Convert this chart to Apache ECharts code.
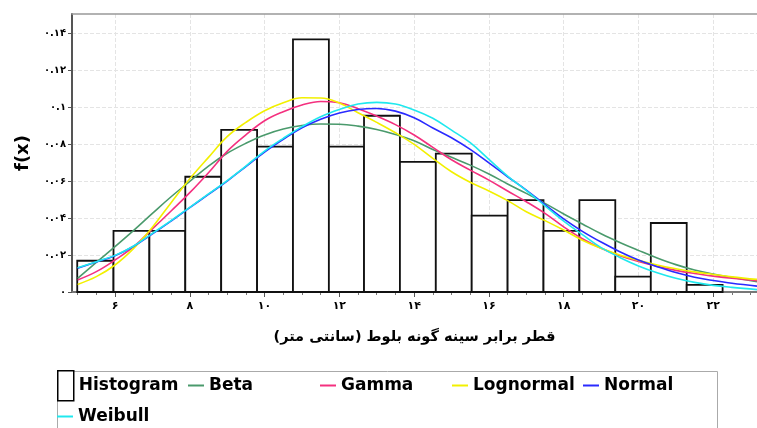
<!DOCTYPE html>
<html>
<head>
<meta charset="utf-8">
<script src="https://cdn.jsdelivr.net/npm/echarts@6/dist/echarts.min.js"></script>
<style>
html,body{margin:0;padding:0;background:#fff;}
#chart{width:757px;height:428px;}
</style>
</head>
<body>
<div id="chart"></div>
<script>
// ---------- data ----------
var binEdges = [4.99, 5.96, 6.92, 7.88, 8.84, 9.80, 10.76, 11.72, 12.66, 13.62, 14.58, 15.54, 16.50, 17.46, 18.42, 19.38, 20.33, 21.29, 22.25];
var binHeights = [0.0169, 0.0331, 0.0331, 0.0623, 0.0876, 0.0786, 0.1366, 0.0786, 0.0953, 0.0704, 0.0748, 0.0413, 0.0497, 0.0331, 0.0497, 0.0083, 0.0373, 0.0039];

var curveX = [5,5.5,6,6.5,7,7.5,8,8.5,9,9.5,10,10.5,11,11.5,12,12.5,13,13.5,14,14.5,15,15.5,16,16.5,17,17.5,18,18.5,19,19.5,20,20.5,21,21.5,22,22.5,23.17];
var betaY = [0.0074,0.0160,0.0245,0.0333,0.0425,0.0515,0.0598,0.0681,0.0750,0.0804,0.0849,0.0881,0.0900,0.0908,0.0907,0.0897,0.0879,0.0852,0.0818,0.0770,0.0728,0.0686,0.0638,0.0584,0.0533,0.0479,0.0422,0.0368,0.0315,0.0268,0.0225,0.0184,0.0148,0.0119,0.0097,0.0079,0.0056];
var gammaY = [0.0065,0.0110,0.0173,0.0245,0.0341,0.0438,0.0537,0.0645,0.0760,0.0849,0.0926,0.0975,0.1011,0.1030,0.1023,0.0991,0.0951,0.0905,0.0849,0.0782,0.0715,0.0659,0.0605,0.0546,0.0488,0.0425,0.0352,0.0288,0.0236,0.0196,0.0165,0.0139,0.0117,0.0100,0.0086,0.0074,0.0061];
var lognormalY = [0.0041,0.0083,0.0146,0.0236,0.0350,0.0483,0.0612,0.0728,0.0840,0.0917,0.0980,0.1023,0.1050,0.1049,0.1022,0.0969,0.0917,0.0861,0.0798,0.0723,0.0650,0.0593,0.0546,0.0494,0.0434,0.0386,0.0335,0.0280,0.0236,0.0200,0.0171,0.0146,0.0126,0.0109,0.0095,0.0082,0.0068];
var normalY = [0.0128,0.0162,0.0196,0.0247,0.0314,0.0384,0.0456,0.0528,0.0600,0.0678,0.0757,0.0826,0.0888,0.0934,0.0968,0.0987,0.0992,0.0978,0.0942,0.0887,0.0834,0.0771,0.0698,0.0623,0.0551,0.0472,0.0395,0.0328,0.0270,0.0218,0.0173,0.0137,0.0105,0.0080,0.0062,0.0047,0.0032];
var weibullY = [0.0131,0.0164,0.0198,0.0249,0.0317,0.0386,0.0458,0.0530,0.0602,0.0681,0.0762,0.0831,0.0894,0.0948,0.0987,0.1016,0.1025,0.1016,0.0984,0.0939,0.0875,0.0807,0.0717,0.0627,0.0548,0.0466,0.0383,0.0310,0.0240,0.0187,0.0141,0.0104,0.0074,0.0052,0.0036,0.0025,0.0013];

var xTickValues = [6, 8, 10, 12, 14, 16, 18, 20, 22];
var xTickLabels = ['۶', '۸', '۱۰', '۱۲', '۱۴', '۱۶', '۱۸', '۲۰', '۲۲'];
var xMinorTicks = [5, 5.5, 6.5, 7, 7.5, 8.5, 9, 9.5, 10.5, 11, 11.5, 12.5, 13, 13.5, 14.5, 15, 15.5, 16.5, 17, 17.5, 18.5, 19, 19.5, 20.5, 21, 21.5, 22.5, 23];
var yTickValues = [0, 0.02, 0.04, 0.06, 0.08, 0.1, 0.12, 0.14];
var yTickLabels = ['۰', '۰.۰۲', '۰.۰۴', '۰.۰۶', '۰.۰۸', '۰.۱', '۰.۱۲', '۰.۱۴'];

var xAxisTitle = 'قطر برابر سینه گونه بلوط (سانتی متر)';
var yAxisTitle = 'f(x)';
var seriesNames = ['Histogram', 'Beta', 'Gamma', 'Lognormal', 'Normal', 'Weibull'];

// ---------- build ----------
function pairs(xs, ys) { var o = []; for (var i = 0; i < xs.length; i++) o.push([xs[i], ys[i]]); return o; }
var histData = [];
for (var i = 0; i < binHeights.length; i++) histData.push([binEdges[i], binEdges[i + 1], binHeights[i]]);

function labelFor(values, labels) {
  return function (v) {
    for (var i = 0; i < values.length; i++) if (Math.abs(values[i] - v) < 1e-9) return labels[i];
    return '';
  };
}

var FONT = 'DejaVu Sans';
var colors = { Beta: '#4a9a6c', Gamma: '#f4307f', Lognormal: '#f2f000', Normal: '#2a2aff', Weibull: '#20e8ee' };

function lineSeries(name, ys) {
  return {
    name: name, type: 'line', data: pairs(curveX, ys), smooth: 0.4, symbol: 'none',
    lineStyle: { color: colors[name], width: 1.6 }, itemStyle: { color: colors[name] },
    z: 3, animation: false
  };
}

var LINE_ICON = 'path://M0,0 L16,0 L16,2 L0,2 Z';
var legendBase = {
  orient: 'horizontal', itemWidth: 16, itemHeight: 30, selectedMode: false, padding: 0,
  symbolKeepAspect: true,
  textStyle: { fontFamily: FONT, fontWeight: 'bold', fontSize: 17, color: '#000' }
};
function legendAt(name, left, top, extra) {
  var item = Object.assign({ name: name }, extra || {
    icon: LINE_ICON, itemStyle: { color: colors[name], borderWidth: 0 }
  });
  return Object.assign({}, legendBase, { left: left, top: top, data: [item] });
}

var option = {
  animation: false,
  backgroundColor: '#fff',
  grid: { left: 72, right: 0, top: 14, bottom: 136, containLabel: false },
  xAxis: [
    {
      type: 'value', min: 4.85, max: 23.17, position: 'bottom',
      axisLine: { show: true, onZero: false, lineStyle: { color: '#777', width: 2 } },
      axisTick: { show: true, customValues: xTickValues, length: 5, lineStyle: { color: '#555', width: 1 } },
      axisLabel: { show: true, customValues: xTickValues, formatter: labelFor(xTickValues, xTickLabels),
        margin: 9, fontFamily: FONT, fontWeight: 'bold', fontSize: 11, color: '#000' },
      splitLine: { show: true, lineStyle: { color: '#e4e4e4', type: 'dashed', width: 1 } },
      name: xAxisTitle, nameLocation: 'middle', nameGap: 38,
      nameTextStyle: { fontFamily: FONT, fontWeight: 'bold', fontSize: 14.5, color: '#000' }
    },
    {
      type: 'value', min: 4.85, max: 23.17, position: 'bottom',
      axisLine: { show: false, onZero: false },
      axisTick: { show: true, customValues: xMinorTicks, length: 3, lineStyle: { color: '#777', width: 1 } },
      axisLabel: { show: false }, splitLine: { show: false }
    },
    {
      type: 'value', min: 4.85, max: 23.17, position: 'top',
      axisLine: { show: true, onZero: false, lineStyle: { color: '#999', width: 1.5 } },
      axisTick: { show: false }, axisLabel: { show: false }, splitLine: { show: false }
    }
  ],
  yAxis: {
    type: 'value', min: 0, max: 0.1503,
    axisLine: { show: true, onZero: false, lineStyle: { color: '#555', width: 2 } },
    axisTick: { show: true, customValues: yTickValues, length: 4, lineStyle: { color: '#555', width: 1 } },
    axisLabel: { show: true, customValues: yTickValues, formatter: labelFor(yTickValues, yTickLabels),
      margin: 6, fontFamily: FONT, fontWeight: 'bold', fontSize: 10, color: '#000' },
    splitLine: { show: true, lineStyle: { color: '#e4e4e4', type: 'dashed', width: 1 } },
    name: yAxisTitle, nameLocation: 'middle', nameGap: 40, nameRotate: 90,
    nameTextStyle: { fontFamily: FONT, fontWeight: 'bold', fontSize: 18, color: '#000' }
  },
  legend: [
    legendAt('Histogram', 57, 370, { icon: 'rect', itemStyle: { color: '#fff', borderColor: '#000', borderWidth: 1.5 } }),
    legendAt('Beta', 188, 377),
    legendAt('Gamma', 320, 377),
    legendAt('Lognormal', 452, 377),
    legendAt('Normal', 583, 377),
    legendAt('Weibull', 57, 408)
  ],
  graphic: [
    { type: 'rect', left: 55, top: 369, shape: { width: 660, height: 80 },
      style: { fill: 'none', stroke: '#aaa', lineWidth: 1 }, silent: true, z: -1 }
  ],
  series: [
    {
      name: 'Histogram', type: 'custom', data: histData, encode: { x: [0, 1], y: 2 }, z: 2,
      itemStyle: { color: '#fff', borderColor: '#000', borderWidth: 1.5 },
      renderItem: function (params, api) {
        var p0 = api.coord([api.value(0), api.value(2)]);
        var p1 = api.coord([api.value(1), 0]);
        return {
          type: 'rect',
          shape: { x: p0[0], y: p0[1], width: p1[0] - p0[0], height: p1[1] - p0[1] },
          style: { fill: '#fff', stroke: '#111', lineWidth: 1.8 }
        };
      }
    },
    lineSeries('Beta', betaY),
    lineSeries('Gamma', gammaY),
    lineSeries('Lognormal', lognormalY),
    lineSeries('Normal', normalY),
    lineSeries('Weibull', weibullY)
  ]
};

var chart = echarts.init(document.getElementById('chart'), null, { renderer: 'canvas' });
chart.setOption(option);
</script>
</body>
</html>
